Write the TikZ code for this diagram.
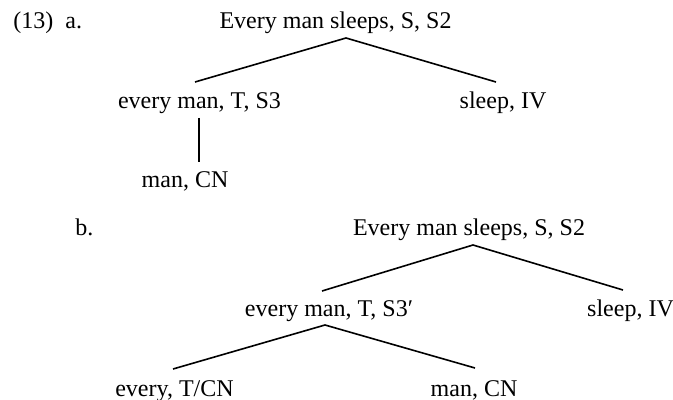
\documentclass[tikz,border=0pt]{standalone}
\usepackage{fontspec}
\setmainfont{Liberation Serif}
\usetikzlibrary{calc}
\begin{document}
\begin{tikzpicture}[x=0.5pt,y=-0.5pt,
  lbl/.style={anchor=base,inner sep=0pt,font=\fontsize{12}{14}\selectfont},
  lblL/.style={lbl,anchor=base west},
  edge/.style={line width=0.8pt}]
\useasboundingbox (0,0) rectangle (673,400);
% tree a
\node[lblL] (na) at (13,29) {(13)\ \ a.};
\node[lbl] (ra) at (335.5,29) {Every man sleeps, S, S2};
\node[lbl] (ema) at (199.5,109) {every man, T, S3};
\node[lbl] (sla) at (503,109) {sleep, IV};
\node[lbl] (mca) at (185,188) {man, CN};
\draw[edge] ($(ema.base)+(-4.5,-27)$) -- ($(ra.base)+(10.5,9)$) -- ($(sla.base)+(-7,-27)$);
\draw[edge] ($(ema.base)+(-0.5,9)$) -- ($(mca.base)+(14,-26)$);
% tree b
\node[lblL] (nb) at (75,236) {b.};
\node[lbl] (rb) at (469,236) {Every man sleeps, S, S2};
\node[lbl] (emb) at (329,316) {every man, T, S3′};
\node[lbl] (slb) at (630.5,316) {sleep, IV};
\node[lbl] (evb) at (174.5,396) {every, T/CN};
\node[lbl] (mcb) at (474,396) {man, CN};
\draw[edge] ($(emb.base)+(-7,-25)$) -- ($(rb.base)+(4,9)$) -- ($(slb.base)+(-7.5,-26)$);
\draw[edge] ($(evb.base)+(-1.5,-27)$) -- ($(emb.base)+(-4,9)$) -- ($(mcb.base)+(1,-28)$);
\end{tikzpicture}
\end{document}
